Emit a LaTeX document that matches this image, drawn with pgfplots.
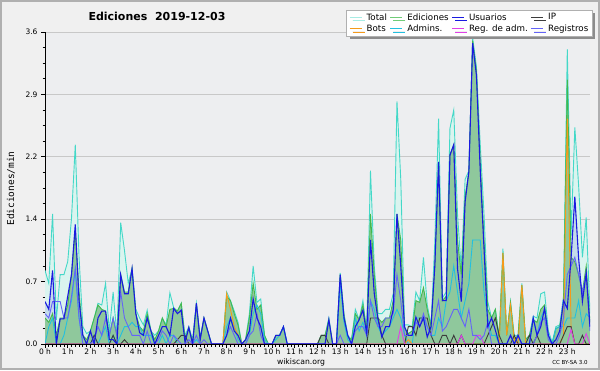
\documentclass[border=0pt]{standalone}
\usepackage{pgfplots}
\pgfplotsset{compat=1.18}
\usepackage{pgfplotstable}
\usepackage{fontspec}
\setmainfont{DejaVu Sans}
\newfontfamily\monofont{DejaVu Sans Mono}
\usetikzlibrary{shadows}
\definecolor{cTotal}{HTML}{44D8C8}
\definecolor{cTotalFill}{HTML}{DAF4EF}
\definecolor{cEd}{HTML}{44B84C}
\definecolor{cEdFill}{HTML}{8FC89C}
\definecolor{cUsu}{HTML}{1A1AE0}
\definecolor{cUsuFill}{HTML}{C4DCEA}
\definecolor{cIP}{HTML}{3C3C3C}
\definecolor{cBots}{HTML}{F59A1A}
\definecolor{cAdm}{HTML}{22C0E0}
\definecolor{cReg}{HTML}{E040E8}
\definecolor{cRegis}{HTML}{6464F8}
\definecolor{cBg}{HTML}{F0F0F0}
\definecolor{cPlot}{HTML}{EDEEF0}
\definecolor{cFrame}{HTML}{B0B0B0}
\definecolor{cGrid}{HTML}{C8C8C8}
\definecolor{cLegTotal}{HTML}{A8ECE4}
\definecolor{cLegEd}{HTML}{70CC78}

\pgfplotstableread{
k T E U I B A R G
0 0.85 0.30 0.49 0 0 0 0 0.35
1 0.70 0.25 0.40 0 0 0.20 0 0.30
2 1.50 0.35 0.85 0 0 0.30 0 0.49
3 0.28 0.10 0.00 0 0 0 0 0.49
4 0.80 0.30 0.29 0 0 0 0 0.49
5 0.80 0.30 0.29 0 0 0.10 0 0.30
6 0.95 0.45 0.55 0 0 0.30 0 0.30
7 1.45 0.80 0.80 0 0 0.50 0 0.55
8 2.30 1.30 1.38 0 0 0.85 0 0.87
9 1.00 0.60 0.50 0 0 0.30 0 0.30
10 0.20 0.10 0.10 0 0 0 0 0
11 0.12 0.05 0.00 0 0 0 0 0
12 0.15 0.15 0.15 0 0 0 0 0
13 0.30 0.30 0.00 0.10 0 0.10 0 0.05
14 0.47 0.45 0.30 0 0 0 0 0.20
15 0.45 0.40 0.38 0 0 0.10 0 0.10
16 0.70 0.38 0.38 0 0 0.20 0 0.30
17 0.15 0.10 0.05 0 0 0 0 0.10
18 0.60 0.30 0.05 0.10 0 0.10 0 0.30
19 0.10 0.10 0.00 0 0 0 0 0.10
20 1.40 0.80 0.80 0 0 0.10 0 0.60
21 1.08 0.60 0.58 0.05 0 0.20 0 0.30
22 0.70 0.60 0.58 0 0 0.20 0 0.20
23 0.87 0.87 0.87 0 0 0.25 0 0.10
24 0.40 0.35 0.35 0 0 0.20 0 0.10
25 0.30 0.20 0.13 0 0 0.20 0 0.10
26 0.22 0.15 0.10 0 0 0.10 0 0
27 0.39 0.35 0.30 0 0 0.10 0 0.15
28 0.15 0.15 0.15 0 0 0.10 0 0
29 0.10 0.05 0.00 0 0 0 0 0
30 0.15 0.15 0.10 0 0 0 0 0.05
31 0.30 0.30 0.20 0 0 0.10 0 0.15
32 0.22 0.20 0.20 0 0 0 0 0.10
33 0.59 0.40 0.10 0 0 0.10 0 0
34 0.42 0.41 0.41 0 0 0.10 0 0.10
35 0.38 0.38 0.35 0.05 0 0 0 0.05
36 0.47 0.47 0.39 0.10 0 0 0 0
37 0.10 0.05 0.02 0.10 0 0 0 0
38 0.20 0.19 0.19 0 0 0 0 0.05
39 0.05 0.02 0.00 0 0 0 0 0
40 0.47 0.47 0.47 0 0 0.05 0 0.10
41 0.08 0.05 0.05 0 0 0 0 0
42 0.30 0.30 0.30 0 0 0 0 0.05
43 0.15 0.15 0.15 0 0 0 0 0
44 0 0 0 0 0 0 0 0
45 0 0 0 0 0 0 0 0
46 0 0 0 0 0 0 0 0
47 0 0 0 0 0 0 0 0
48 0.60 0.55 0.10 0 0.58 0.20 0 0.10
49 0.50 0.50 0.30 0 0.40 0.30 0 0.20
50 0.38 0.35 0.15 0 0.20 0.20 0 0.10
51 0.25 0.22 0.10 0 0.10 0.05 0 0
52 0 0 0 0 0 0 0 0
53 0.05 0.05 0.05 0 0 0 0 0
54 0.35 0.30 0.15 0 0 0.10 0 0.10
55 0.90 0.70 0.52 0 0 0.35 0 0.15
56 0.48 0.40 0.30 0 0 0.45 0 0.35
57 0.52 0.45 0.20 0 0 0.35 0 0.10
58 0.10 0.10 0 0 0 0.05 0 0
59 0 0 0 0 0 0 0 0
60 0 0 0 0 0 0 0 0
61 0.10 0.10 0.10 0 0 0.05 0 0
62 0.10 0.10 0.10 0 0 0.10 0 0
63 0.20 0.20 0.20 0 0 0.20 0 0
64 0 0 0 0 0 0 0 0
65 0 0 0 0 0 0 0 0
66 0 0 0 0 0 0 0 0
67 0 0 0 0 0 0 0 0
68 0 0 0 0 0 0 0 0
69 0 0 0 0 0 0 0 0
70 0 0 0 0 0 0 0 0
71 0 0 0 0 0 0 0 0
72 0 0 0 0 0 0 0 0
73 0.10 0.10 0 0.10 0 0 0 0
74 0.10 0.10 0 0.10 0 0 0 0
75 0.30 0.28 0.28 0 0 0 0 0
76 0 0 0 0 0 0 0 0
77 0 0 0 0 0 0 0 0
78 0.82 0.80 0.80 0 0 0.70 0 0.10
79 0.35 0.33 0.30 0 0 0.25 0 0
80 0.10 0.08 0.10 0 0 0.05 0 0
81 0.05 0.05 0 0 0 0 0 0
82 0.40 0.35 0.20 0 0 0.30 0 0.15
83 0.28 0.28 0.28 0 0 0.15 0 0.20
84 0.50 0.45 0.39 0 0 0.25 0 0.20
85 0.15 0.15 0.12 0 0 0.10 0 0.10
86 2.00 1.50 1.20 0.30 0 0.50 0 0.50
87 0.90 0.80 0.58 0.30 0 0.40 0 0.30
88 0.35 0.30 0.28 0.30 0 0.20 0 0.20
89 0.35 0.25 0.08 0.10 0 0.10 0 0.20
90 0.40 0.30 0.20 0 0 0.15 0 0.30
91 0.40 0.30 0.20 0 0 0.20 0 0.30
92 0.58 0.50 0.40 0 0 0.30 0 0.35
93 2.80 1.50 1.50 0 0 0.40 0 0.80
94 1.90 1.20 0.90 0 0 0.30 0.20 0.50
95 0.22 0.18 0.20 0 0 0.10 0 0.10
96 0.22 0.12 0.10 0.20 0.05 0 0 0.10
97 0.20 0.15 0.10 0.20 0 0 0 0.10
98 0.60 0.50 0.31 0.10 0 0.30 0 0.25
99 0.50 0.48 0.20 0.30 0 0.30 0 0.20
100 1.00 0.65 0.30 0.30 0 0.30 0 0.35
101 0.45 0.40 0.08 0.30 0 0.20 0 0.20
102 0.22 0.20 0.20 0.10 0 0.10 0 0.10
103 1.18 0.90 0.90 0 0 0.10 0 0.30
104 2.60 2.10 2.10 0 0 0.30 0 0.50
105 0.53 0.50 0.50 0.10 0 0.20 0 0.15
106 0.60 0.55 0.50 0.10 0 0.50 0 0.20
107 2.49 2.18 2.18 0 0 0.60 0 0.30
108 2.70 2.30 2.30 0.10 0 0.90 0 0.40
109 1.50 1.20 0.87 0 0 0.60 0 0.40
110 0.85 0.80 0.49 0.10 0 0.30 0.10 0.30
111 1.90 1.70 1.64 0 0 0.50 0 0.20
112 2.00 1.99 1.99 0 0 0.70 0 0.40
113 3.53 3.50 3.47 0 0 1.20 0 0.10
114 3.20 3.15 3.10 0 0 1.20 0.10 0.10
115 2.30 2.10 2.00 0 0 1.20 0.10 0.05
116 1.50 1.20 1.10 0 0 0.60 0 0.10
117 0.49 0.40 0.20 0.10 0 0.30 0 0.25
118 0.30 0.30 0.30 0.20 0 0.10 0 0
119 0.40 0.40 0.16 0.30 0 0.10 0 0
120 0.10 0.05 0 0.10 0 0 0 0
121 1.10 1.05 0 0 1.05 0 0 0
122 0.10 0.10 0 0 0.10 0 0 0
123 0.49 0.48 0.10 0 0.45 0 0 0.10
124 0.10 0.05 0 0.10 0.05 0 0 0
125 0.10 0.10 0.10 0 0 0 0 0.10
126 0.70 0.68 0 0 0.68 0 0 0
127 0.05 0.05 0 0 0 0 0 0
128 0.10 0.10 0 0.10 0 0 0 0
129 0.32 0.28 0.30 0 0 0.30 0 0
130 0.30 0.25 0.10 0.10 0 0.10 0 0.10
131 0.58 0.40 0.20 0 0 0.30 0 0.25
132 0.60 0.45 0.41 0 0 0.40 0 0.30
133 0.15 0.10 0.10 0 0 0.10 0 0.05
134 0.02 0 0 0 0 0 0 0
135 0.20 0.18 0.05 0 0 0.18 0 0
136 0.22 0.20 0.15 0 0 0.20 0 0.10
137 0.55 0.45 0.50 0.10 0.10 0.20 0 0.30
138 3.40 3.05 0.41 0.20 2.60 0.30 0 0.80
139 1.25 1.00 0.99 0.20 0.20 0.30 0.17 0.90
140 2.50 0.95 1.70 0 0 0.30 0 1.00
141 1.83 0.80 0.99 0 0 0.50 0 0.80
142 1.00 0.60 0.49 0.10 0 0.20 0 0.60
143 1.46 0.90 0.82 0 0 0.35 0.12 0.80
144 0.35 0.25 0.20 0 0 0.30 0 0.15
}\datatable

\begin{document}
\begin{tikzpicture}[x=1pt,y=1pt]
\useasboundingbox (0,0) rectangle (600,370);
\fill[cBg] (0,0) rectangle (600,370);
\draw[cFrame, line width=2pt] (1,1) rectangle (599,369);
\begin{axis}[
  at={(45pt,26pt)}, anchor=south west,
  scale only axis, width=545pt, height=312pt,
  xmin=0, xmax=24, ymin=0, ymax=3.6,
  axis lines=left, axis line style={-, black, line width=1pt},
  axis background/.style={fill=cPlot},
  xtick={0,1,...,23},
  xticklabels={0 h,1 h,2 h,3 h,4 h,5 h,6 h,7 h,8 h,9 h,10 h,11 h,12 h,13 h,14 h,15 h,16 h,17 h,18 h,19 h,20 h,21 h,22 h,23 h},
  minor x tick num=5,
  ytick={0,0.72,1.44,2.16,2.88,3.6},
  yticklabels={0.0,0.7,1.4,2.2,2.9,3.6},
  minor y tick num=3,
  tick align=outside, major tick length=4pt, minor tick length=2.5pt,
  tick style={black, line width=0.8pt},
  ymajorgrids, grid style={cGrid, line width=0.8pt},
  tick label style={font=\fontsize{7.5}{8}\selectfont},
  xticklabel style={yshift=2.5pt},
  legend columns=4,
  legend cell align=left,
  legend image code/.code={\draw[#1, line width=0.9pt] (0pt,0pt) -- (12pt,0pt);},
  legend style={at={(axis description cs:1.0037,1.0705)}, anchor=north east,
    draw=cFrame, fill=white, font=\fontsize{8.7}{9.5}\selectfont,
    nodes={inner xsep=1pt, inner ysep=1.8pt},
    inner xsep=2.5pt, inner ysep=1.5pt, row sep=-0.5pt,
    /tikz/every odd column/.append style={column sep=3.5pt},
    /tikz/every even column/.append style={column sep=2pt},
    drop shadow={shadow xshift=3pt, shadow yshift=-3pt, fill=black!45, opacity=1}},
]
% fills
\addplot[draw=none, fill=cTotalFill, forget plot] table[x expr=\thisrow{k}/6, y=T] {\datatable} \closedcycle;
\addplot[draw=none, fill=cUsuFill, forget plot] table[x expr=\thisrow{k}/6, y=U] {\datatable} \closedcycle;
\addplot[draw=none, fill=cEdFill, forget plot] table[x expr=\thisrow{k}/6, y=E] {\datatable} \closedcycle;
% lines
\addplot[cTotal, line width=0.9pt, forget plot] table[x expr=\thisrow{k}/6, y=T] {\datatable};
\addplot[cEd, line width=0.9pt, forget plot] table[x expr=\thisrow{k}/6, y=E] {\datatable};
\addplot[cAdm, line width=0.9pt, forget plot] table[x expr=\thisrow{k}/6, y=A] {\datatable};
\addplot[cBots, line width=0.9pt, forget plot] table[x expr=\thisrow{k}/6, y=B] {\datatable};
\addplot[cIP, line width=0.9pt, forget plot] table[x expr=\thisrow{k}/6, y=I] {\datatable};
\addplot[cReg, line width=0.9pt, forget plot] table[x expr=\thisrow{k}/6, y=R] {\datatable};
\addplot[cRegis, line width=0.9pt, forget plot] table[x expr=\thisrow{k}/6, y=G] {\datatable};
\addplot[cUsu, line width=1.1pt, forget plot] table[x expr=\thisrow{k}/6, y=U] {\datatable};
\draw[black, line width=1pt] (axis cs:0,0) -- (axis cs:24,0);
% legend
\addlegendimage{cLegTotal}\addlegendentry{Total}
\addlegendimage{cLegEd}\addlegendentry{Ediciones}
\addlegendimage{cUsu}\addlegendentry{Usuarios}
\addlegendimage{cIP}\addlegendentry{IP}
\addlegendimage{cBots}\addlegendentry{Bots}
\addlegendimage{cAdm}\addlegendentry{Admins.}
\addlegendimage{cReg}\addlegendentry{Reg. de adm.}
\addlegendimage{cRegis}\addlegendentry{Registros}
\end{axis}
\node[anchor=base west, font=\bfseries\fontsize{11}{12}\selectfont] at (85,349) {Ediciones\ \ 2019-12-03};
\node[rotate=90, font=\monofont\fontsize{9.5}{10}\selectfont] at (11,181.5) {Ediciones/min};
\node[font=\fontsize{7.7}{8}\selectfont] at (301,8) {wikiscan.org};
\node[font=\fontsize{5.5}{6}\selectfont] at (570,8) {CC BY-SA 3.0};
\end{tikzpicture}
\end{document}
